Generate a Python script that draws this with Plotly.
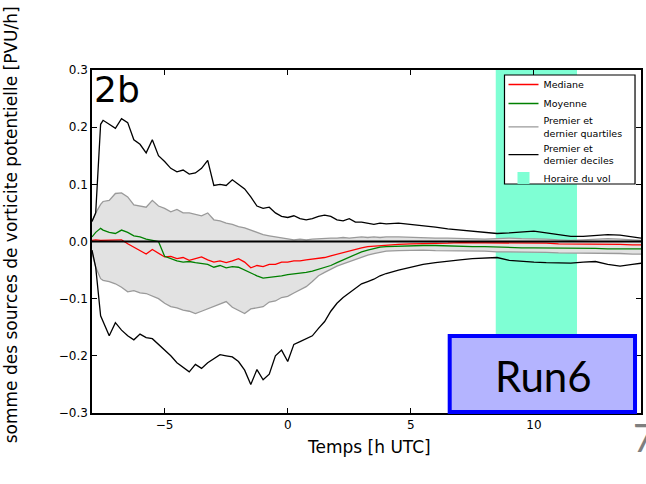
import plotly.graph_objects as go

# Time axis (hours UTC)
temps = [
    -7.95, -7.8, -7.6,
    -7.5, -7.25, -7.0, -6.75, -6.5, -6.25, -6.0, -5.75, -5.5, -5.25,
    -5.0, -4.75, -4.5, -4.25, -4.0, -3.75, -3.5, -3.25, -3.0, -2.75,
    -2.5, -2.25, -2.0, -1.75, -1.5, -1.25, -1.0, -0.75, -0.5, -0.25,
    0.0, 0.25, 0.5, 0.75, 1.0, 1.25, 1.5, 1.75, 2.0, 2.25, 2.5, 2.75,
    3.0, 3.25, 3.5, 3.75, 4.0,
    4.5, 5.0, 5.5, 6.0, 6.5, 7.0, 7.5, 8.0, 8.5, 9.0, 9.5, 10.0,
    10.5, 11.0, 11.5, 12.0, 12.5, 13.0, 13.5, 14.0, 14.35,
]

# Dernier decile
decile_haut = [
    0.035, 0.05, 0.205,
    0.212, 0.205, 0.198, 0.215, 0.208, 0.178, 0.17, 0.155, 0.178, 0.15,
    0.14, 0.128, 0.122, 0.125, 0.118, 0.12, 0.128, 0.142, 0.098, 0.1,
    0.098, 0.108, 0.1, 0.092, 0.078, 0.062, 0.058, 0.06, 0.05, 0.044,
    0.042, 0.045, 0.04, 0.038, 0.04, 0.044, 0.046, 0.044, 0.038, 0.036, 0.04, 0.034,
    0.034, 0.032, 0.03, 0.032, 0.031,
    0.032, 0.03, 0.027, 0.025, 0.022, 0.02, 0.018, 0.015, 0.014, 0.015, 0.017, 0.018,
    0.015, 0.012, 0.009, 0.009, 0.01, 0.012, 0.011, 0.008, 0.006,
]

# Dernier quartile
quartile_haut = [
    0.035, 0.05, 0.065,
    0.07, 0.072, 0.084, 0.085, 0.078, 0.064, 0.062, 0.06, 0.072, 0.062,
    0.058, 0.052, 0.056, 0.05, 0.05, 0.048, 0.045, 0.05, 0.038, 0.036,
    0.032, 0.03, 0.026, 0.024, 0.02, 0.016, 0.012, 0.01, 0.008, 0.006,
    0.004, 0.003, 0.004, 0.003, 0.004, 0.005, 0.005, 0.006, 0.006, 0.007, 0.006, 0.007,
    0.008, 0.007, 0.008, 0.007, 0.008,
    0.008, 0.007, 0.007, 0.006, 0.006, 0.005, 0.005, 0.004, 0.005, 0.006, 0.005, 0.005,
    0.004, 0.003, 0.002, 0.003, 0.004, 0.005, 0.004, 0.003, 0.002,
]

mediane = [
    0.002, 0.003, 0.002,
    0.002, 0.003, 0.002, 0.003, -0.004, -0.01, -0.016, -0.022, -0.014, -0.02,
    -0.027, -0.026, -0.03, -0.028, -0.033, -0.03, -0.027, -0.032, -0.036, -0.034,
    -0.037, -0.034, -0.03, -0.036, -0.046, -0.042, -0.044, -0.04, -0.04, -0.036,
    -0.036, -0.034, -0.034, -0.032, -0.031, -0.03, -0.028, -0.025, -0.022, -0.019, -0.016, -0.013,
    -0.011, -0.009, -0.008, -0.007, -0.006,
    -0.005, -0.004, -0.004, -0.003, -0.003, -0.002, -0.002, -0.002, -0.002, -0.003, -0.003, -0.003,
    -0.003, -0.004, -0.004, -0.004, -0.005, -0.005, -0.005, -0.006, -0.006,
]

moyenne = [
    0.008, 0.016, 0.023,
    0.02, 0.016, 0.014, 0.02, 0.016, 0.01, 0.008, 0.004, 0.002, 0.0,
    -0.026, -0.03, -0.034, -0.036, -0.035, -0.037, -0.038, -0.04, -0.045, -0.042,
    -0.046, -0.044, -0.045, -0.05, -0.056, -0.06, -0.064, -0.063, -0.061, -0.06,
    -0.058, -0.057, -0.056, -0.054, -0.052, -0.049, -0.046, -0.042, -0.037, -0.032, -0.027, -0.022,
    -0.018, -0.015, -0.012, -0.01, -0.009,
    -0.008, -0.007, -0.007, -0.007, -0.008, -0.008, -0.009, -0.009, -0.01, -0.01, -0.011, -0.011,
    -0.011, -0.012, -0.012, -0.012, -0.012, -0.013, -0.013, -0.013, -0.013,
]

# Premier quartile
quartile_bas = [
    -0.02, -0.045, -0.065,
    -0.068, -0.07, -0.074, -0.08, -0.088, -0.086, -0.09, -0.091, -0.095, -0.1,
    -0.108, -0.114, -0.116, -0.12, -0.122, -0.126, -0.122, -0.118, -0.114, -0.11,
    -0.105, -0.115, -0.12, -0.126, -0.118, -0.116, -0.114, -0.106, -0.104, -0.098,
    -0.096, -0.09, -0.085, -0.079, -0.07, -0.06, -0.054, -0.048, -0.043, -0.039, -0.035, -0.031,
    -0.027, -0.024, -0.021, -0.019, -0.017,
    -0.016, -0.015, -0.015, -0.016, -0.016, -0.016, -0.017, -0.017, -0.018, -0.018, -0.019, -0.019,
    -0.019, -0.02, -0.02, -0.02, -0.021, -0.021, -0.021, -0.022, -0.022,
]

# Premier decile
decile_bas = [
    -0.015, -0.045, -0.13,
    -0.14, -0.165, -0.142, -0.155, -0.165, -0.172, -0.162, -0.168, -0.17, -0.18,
    -0.19, -0.2, -0.212, -0.22, -0.228, -0.215, -0.222, -0.212, -0.205, -0.198,
    -0.2, -0.202, -0.21, -0.225, -0.25, -0.224, -0.242, -0.232, -0.2, -0.19,
    -0.21, -0.18, -0.175, -0.17, -0.165, -0.152, -0.14, -0.122, -0.108, -0.098, -0.09, -0.082,
    -0.074, -0.07, -0.066, -0.06, -0.056,
    -0.05, -0.045, -0.04, -0.037, -0.034, -0.032, -0.03, -0.029, -0.028, -0.033, -0.035, -0.036,
    -0.037, -0.038, -0.038, -0.036, -0.035, -0.04, -0.043, -0.04, -0.038,
]

# Flight window (h UTC)
vol_debut, vol_fin = 8.45, 11.75

X_RANGE = [-7.95, 14.35]
Y_RANGE = [-0.3, 0.3]

W, H = 646, 484
ML, MR, MT, MB = 92, 3, 70, 71
PW, PH = W - ML - MR, H - MT - MB


def px_x(p):
    return (p - ML) / PW


def px_y(p):
    return (H - MB - p) / PH


GRIS = "#9a9a9a"
FOND_GRIS = "#e2e2e2"
FONT = "DejaVu Sans"

fig = go.Figure()

# Interquartile envelope
fig.add_trace(go.Scatter(x=temps, y=quartile_bas, mode="lines",
                         line=dict(width=0), showlegend=False, hoverinfo="skip"))
fig.add_trace(go.Scatter(x=temps, y=quartile_haut, mode="lines", fill="tonexty",
                         fillcolor=FOND_GRIS, line=dict(width=0),
                         showlegend=False, hoverinfo="skip"))

fig.add_trace(go.Scatter(x=temps, y=mediane, mode="lines", name="Mediane",
                         line=dict(color="#ff0000", width=1.3), legendrank=1))
fig.add_trace(go.Scatter(x=temps, y=moyenne, mode="lines", name="Moyenne",
                         line=dict(color="#008000", width=1.3), legendrank=2))
fig.add_trace(go.Scatter(x=temps, y=quartile_haut, mode="lines",
                         name="Premier et<br>dernier quartiles", legendgroup="q",
                         line=dict(color=GRIS, width=1.3), legendrank=3))
fig.add_trace(go.Scatter(x=temps, y=quartile_bas, mode="lines", legendgroup="q",
                         showlegend=False, line=dict(color=GRIS, width=1.3)))
fig.add_trace(go.Scatter(x=temps, y=decile_haut, mode="lines",
                         name="Premier et<br>dernier deciles", legendgroup="d",
                         line=dict(color="#000000", width=1.3), legendrank=4))
fig.add_trace(go.Scatter(x=temps, y=decile_bas, mode="lines", legendgroup="d",
                         showlegend=False, line=dict(color="#000000", width=1.3)))

# Flight window band
fig.add_vrect(x0=vol_debut, x1=vol_fin, fillcolor="#7fffd4", opacity=1,
              line_width=0, layer="below", showlegend=True,
              name="Horaire du vol", legendrank=5)

# Zero reference line
fig.add_hline(y=0, line=dict(color="black", width=2), layer="above")

axis_common = dict(showline=True, linecolor="black", linewidth=1.5, mirror="ticks",
                   ticks="inside", ticklen=5, tickwidth=1.2, tickcolor="black",
                   showgrid=False, zeroline=False,
                   tickfont=dict(family=FONT, size=12, color="black"))

fig.update_xaxes(range=X_RANGE, tick0=0, dtick=5, **axis_common)
fig.update_yaxes(range=Y_RANGE, tick0=0, dtick=0.1, tickformat=".1f", **axis_common)

annotations = [
    dict(text="somme des sources de vorticite potentielle [PVU/h]",
         x=px_x(11), y=px_y(225), xref="paper", yref="paper", textangle=-90,
         showarrow=False, font=dict(family=FONT, size=17, color="black"),
         xanchor="center", yanchor="middle"),
    dict(text="Temps [h UTC]", x=px_x(370), y=px_y(447), xref="paper", yref="paper",
         showarrow=False, font=dict(family=FONT, size=17, color="black"),
         xanchor="center", yanchor="middle"),
    dict(text="2b", x=px_x(92), y=px_y(90), xref="paper", yref="paper",
         showarrow=False, font=dict(family=FONT, size=36, color="black"),
         xanchor="left", yanchor="middle"),
    dict(text="Run6", x=px_x(545), y=px_y(376), xref="paper", yref="paper",
         showarrow=False, font=dict(family="Lato", size=42, color="black"),
         xanchor="center", yanchor="middle"),
    dict(text="7", x=px_x(633), y=px_y(437), xref="paper", yref="paper",
         showarrow=False, font=dict(family="Lato", size=38, color="#7f7f7f"),
         xanchor="left", yanchor="middle"),
]

shapes = [
    # legend frame
    dict(type="rect", xref="paper", yref="paper",
         x0=px_x(506), x1=px_x(637), y0=px_y(184), y1=px_y(75),
         fillcolor="white", line=dict(color="black", width=1.2), layer="above"),
    # Run6 tag
    dict(type="rect", xref="paper", yref="paper",
         x0=px_x(451), x1=px_x(637), y0=px_y(412), y1=px_y(336),
         fillcolor="#b4b4ff", line=dict(color="#0000ff", width=4), layer="above"),
]

fig.update_layout(
    width=W, height=H,
    margin=dict(l=ML, r=MR, t=MT, b=MB, pad=0),
    plot_bgcolor="white", paper_bgcolor="white",
    showlegend=True,
    legend=dict(x=px_x(505), y=px_y(70), xanchor="left", yanchor="top",
                bgcolor="rgba(0,0,0,0)", borderwidth=0,
                font=dict(family=FONT, size=9.5, color="black"),
                itemwidth=30, tracegroupgap=0),
    annotations=annotations,
    shapes=list(fig.layout.shapes) + shapes,
)

fig.write_html("out.html")
